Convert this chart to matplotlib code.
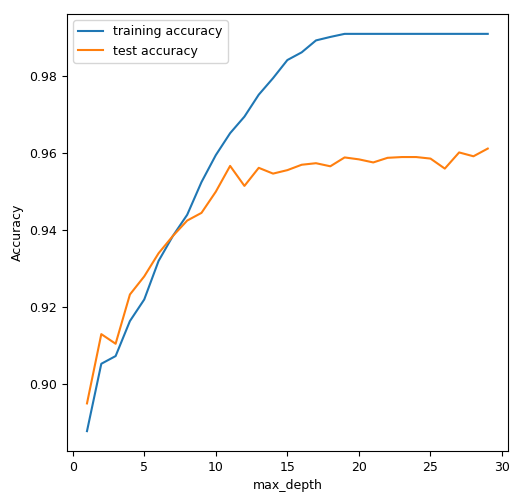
import matplotlib
matplotlib.use("Agg")
import matplotlib.pyplot as plt

# accuracy of a decision tree for each max_depth
max_depth = list(range(1, 30))
training_accuracy = [
    0.8878, 0.9053, 0.9073, 0.9164, 0.9220, 0.9320, 0.9385, 0.9440, 0.9525,
    0.9595, 0.9652, 0.9695, 0.9752, 0.9795, 0.9842, 0.9862, 0.9893, 0.9902,
    0.9910, 0.9910, 0.9910, 0.9910, 0.9910, 0.9910, 0.9910, 0.9910, 0.9910,
    0.9910, 0.9910,
]
test_accuracy = [
    0.8950, 0.9130, 0.9105, 0.9233, 0.9280, 0.9340, 0.9385, 0.9425, 0.9445,
    0.9500, 0.9567, 0.9515, 0.9562, 0.9547, 0.9556, 0.9570, 0.9574, 0.9566,
    0.9589, 0.9584, 0.9576, 0.9588, 0.9590, 0.9590, 0.9586, 0.9560, 0.9602,
    0.9592, 0.9612,
]

fig, ax = plt.subplots(figsize=(5.15, 5.0), dpi=100)
fig.subplots_adjust(left=0.130, right=0.986, bottom=0.098, top=0.972)

ax.plot(max_depth, training_accuracy, label="training accuracy")
ax.plot(max_depth, test_accuracy, label="test accuracy")

ax.set_xlabel("max_depth", fontsize=9)
ax.set_ylabel("Accuracy", fontsize=9)
ax.set_xticks([0, 5, 10, 15, 20, 25, 30])
ax.set_yticks([0.90, 0.92, 0.94, 0.96, 0.98])
ax.tick_params(labelsize=9)
ax.legend(loc="upper left", fontsize=9)

fig.savefig("out.png", dpi=100)
